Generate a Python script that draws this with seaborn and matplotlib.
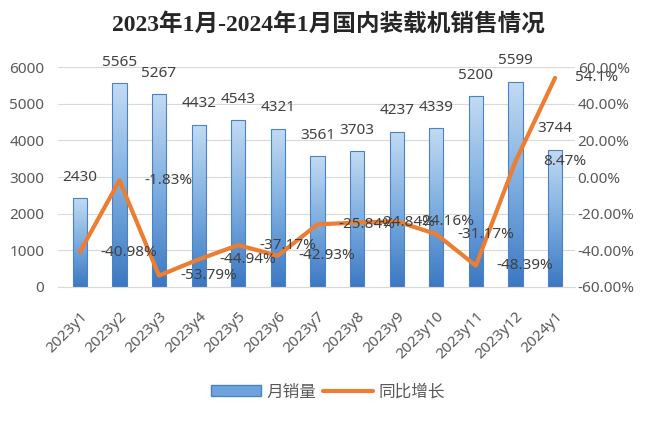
import numpy as np
import pandas as pd
import matplotlib
matplotlib.use("Agg")
from matplotlib import pyplot as plt
from matplotlib.colors import LinearSegmentedColormap
from matplotlib.patches import Patch
from matplotlib.lines import Line2D
import seaborn as sns

months = ["2023y1", "2023y2", "2023y3", "2023y4", "2023y5", "2023y6", "2023y7",
          "2023y8", "2023y9", "2023y10", "2023y11", "2023y12", "2024y1"]
sales = [2430, 5565, 5267, 4432, 4543, 4321, 3561, 3703, 4237, 4339, 5200, 5599, 3744]
growth = [-40.98, -1.83, -53.79, -44.94, -37.17, -42.93, -25.84, -24.84, -24.16,
          -31.17, -48.39, 8.47, 54.1]
growth_labels = ["-40.98%", "-1.83%", "-53.79%", "-44.94%", "-37.17%", "-42.93%", "-25.84%",
                 "-24.84%", "-24.16%", "-31.17%", "-48.39%", "8.47%", "54.1%"]

df = pd.DataFrame({"month": months, "sales": sales, "growth": growth})

sns.set_style("white")
plt.rcParams['font.family'] = ['Noto Sans', 'Noto Sans CJK SC', 'DejaVu Sans']
txt = "#404040"
tick_c = "#595959"

fig = plt.figure(figsize=(6.6, 4.22), dpi=100)
ax = fig.add_axes([0.088, 0.32, 0.783, 0.521])

sns.barplot(data=df, x="month", y="sales", ax=ax, width=0.36, color="#5b9bd5",
            edgecolor="#4a83c4", linewidth=0.8)

# vertical gradient fill for the bars
cmap = LinearSegmentedColormap.from_list("bar", ["#3b78c3", "#7eaee0", "#c3dbf3"])
grad = np.linspace(0, 1, 256).reshape(-1, 1)
for p in ax.patches:
    x0, y0 = p.get_x(), p.get_y()
    w, h = p.get_width(), p.get_height()
    im = ax.imshow(grad, extent=[x0, x0 + w, y0, y0 + h], origin="lower", cmap=cmap,
                   aspect="auto", zorder=p.get_zorder())
    im.set_clip_path(p)
    p.set_facecolor("none")
    p.set_zorder(p.get_zorder() + 0.1)
ax.set_xlim(-0.55, 12.5)
ax.set_ylim(0, 6000)

for i, v in enumerate(sales):
    ax.annotate(str(v), (i, v), xytext=(0, 15), textcoords="offset points",
                ha="center", va="center", fontsize=11, color=txt)

ax.set_yticks(range(0, 6001, 1000))
ax.grid(axis="y", color="#d9d9d9", linewidth=0.8)
ax.set_axisbelow(True)
ax.set_xlabel("")
ax.set_ylabel("")
ax.tick_params(axis="y", labelsize=11, labelcolor=tick_c, length=0, pad=10)
ax.tick_params(axis="x", labelsize=11, labelcolor=tick_c, length=0, pad=16)
plt.setp(ax.get_xticklabels(), rotation=45, ha="right", rotation_mode="anchor")
for s in ["top", "right", "left"]:
    ax.spines[s].set_visible(False)
ax.spines["bottom"].set_color("#d9d9d9")

ax2 = ax.twinx()
sns.lineplot(x=np.arange(len(months)), y=growth, ax=ax2, color="#ed7d31",
             linewidth=3, sort=False)
ax2.set_ylim(-60, 60)
ax2.set_xlim(-0.55, 12.5)
ax2.set_yticks(range(-60, 61, 20))
ax2.set_yticklabels([f"{t:.2f}%" for t in range(-60, 61, 20)])
ax2.tick_params(axis="y", labelsize=11, labelcolor=tick_c, length=0, pad=2)
for s in ax2.spines.values():
    s.set_visible(False)

# line labels sit one category to the right of their points, as in the original
for i, (v, lab) in enumerate(zip(growth, growth_labels)):
    if i < len(growth) - 1:
        ax2.annotate(lab, (i + 1, v), xytext=(7, 0), textcoords="offset points",
                     ha="center", va="center", fontsize=11, color=txt)
    else:
        ax2.annotate(lab, (i, v), xytext=(30, 0), textcoords="offset points",
                     ha="center", va="center", fontsize=11, color=txt)

fig.suptitle("2023年1月-2024年1月国内装载机销售情况", x=0.497, y=0.97,
             fontsize=17, fontweight="bold", color="#262626",
             family=["Liberation Serif", "Noto Sans CJK SC"])

handles = [Patch(facecolor="#6fa3dc", edgecolor="#4a83c4"),
           Line2D([0], [0], color="#ed7d31", linewidth=3)]
fig.legend(handles, ["月销量", "同比增长"], loc="center", bbox_to_anchor=(0.497, 0.07),
           ncol=2, frameon=False, fontsize=12, handlelength=3, columnspacing=0.4,
           handletextpad=0.3, labelcolor=tick_c)

fig.savefig("out.png", dpi=100)
